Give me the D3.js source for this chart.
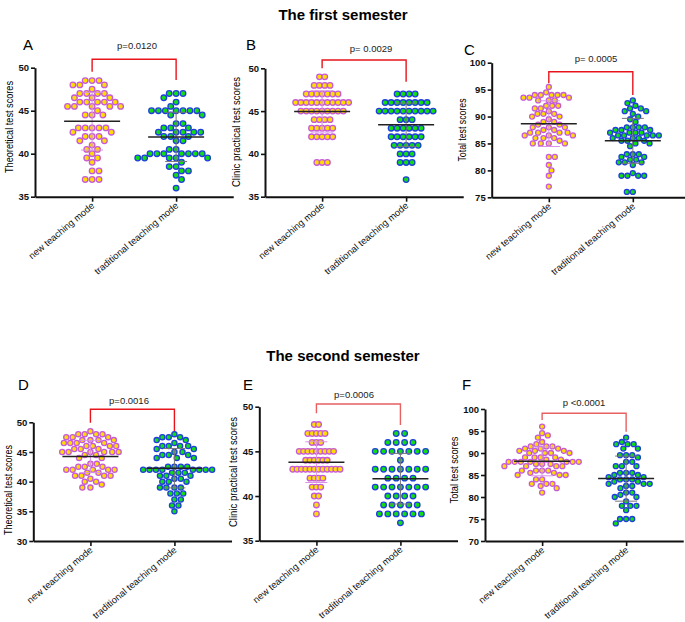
<!DOCTYPE html>
<html><head><meta charset="utf-8">
<script src="https://cdn.jsdelivr.net/npm/d3@7"></script>
<style>body{margin:0;background:#fff} text{font-family:"Liberation Sans",Arial,sans-serif}</style>
</head><body><svg id="c" width="685" height="622"></svg>
<script>
// ---------- DATA ----------
const groups = ["new teaching mode", "traditional teaching mode"];
const semesterTitles = ["The first semester", "The second semester"];
const panelLetters = ["A", "B", "C", "D", "E", "F"];
const yLabels = ["Theoretical  test scores", "Clinic practical test scores", "Total test scores",
                 "Theoretical  test scores", "Clinic practical test scores", "Total test scores"];
const pLabels = ["p=0.0120", "p= 0.0029", "p= 0.0005", "p=0.0016", "p=0.0006", "p <0.0001"];
const yTicksA = [35, 40, 45, 50];
const yTicksB = [35, 40, 45, 50];
const yTicksC = [75, 80, 85, 90, 95, 100];
const yTicksD = [30, 35, 40, 45, 50];
const yTicksE = [35, 40, 45, 50];
const yTicksF = [70, 75, 80, 85, 90, 95, 100];

const aNew = [48.5,48.5,48.5, 48,48,48, 47.5, 47,47,47,47, 46.5,46.5,46.5, 46,46,46,46,46,
  45.5,45.5,45.5,45.5,45.5, 45, 44.5,44.5,44.5, 43,43,43,43,43, 42.5,42.5, 42,42,42, 41.5,41.5, 41,
  40.5,40.5, 40, 39.5,39.5, 39, 38,38, 37,37,37];
const aTrad = [47,47,47, 46.5, 46, 45.5, 45,45,45,45,45,45,45, 44.5,44.5, 43.5,43.5, 43,43,43,
  42.5,42.5,42.5,42.5,42.5, 42,42,42, 41.5,41.5, 40.5,40.5, 40,40,40,40,40,40,40,
  39.5,39.5,39.5,39.5,39.5, 39, 38.5,38.5, 38,38, 37.5, 37, 36];
const bNew = [49,49, 48,48,48,48, 47,47,47,47,47,47,47, 46,46,46,46,46,46,46,46,46,46,46,
  45,45,45,45,45,45,45,45,45, 44,44,44,44, 43,43,43,43,43, 42,42,42,42,42, 39,39,39];
const bTrad = [47,47,47,47, 46,46,46,46,46,46,46,46, 45,45,45,45,45,45,45,45,45,45, 44,44,44,
  43,43,43,43,43,43, 42,42,42,42,42,42, 41,41,41,41,41, 40,40,40, 39,39,39, 37];
const cNew = [95.5, 94.5, 94,94,94,94,94, 93.5,93.5,93.5, 93,93,93, 92,92,92, 91.5,91.5, 91,
  90.5,90.5,90.5, 90,90, 89.5, 89,89, 88.5,88.5, 88,88,88, 87.5,87.5, 87,87,87,87,
  86.5,86.5,86.5, 86,86,86, 85.5, 85,85,85,85, 82.5,82.5, 81, 80, 79, 77];
const cTrad = [93, 92.5, 92, 91.5,91.5, 91,91, 90.5, 90, 89.5, 89, 88,88,88,88, 87.5,87.5,87.5,
  87,87,87,87, 86.5,86.5,86.5,86.5,86.5, 86,86,86, 85.5,85.5,85.5, 85,85, 84.5, 83,83,83,
  82.5,82.5, 82,82, 81.5,81.5,81.5, 81, 79.5, 79,79,79,79, 76,76];
const dNew = [48.5, 48,48,48,48, 47.5,47.5,47.5, 47,47,47,47, 46.5,46.5,46.5,46.5,
  46,46,46,46, 45.5,45.5,45.5, 45,45,45,45,45,45, 44.5,44.5, 44,44, 43,43, 42.5,42.5,42.5,
  42,42,42,42,42, 41.5,41.5, 41,41,41,41, 40.5, 40,40, 39.5, 39,39];
const dTrad = [48, 47.5,47.5,47.5, 47,47, 46.5, 46,46,46,46, 45.5,45.5, 45,45, 44.5,44.5,44.5,
  44,44,44, 42.5,42.5,42.5,42.5, 42,42,42,42,42,42,42,42, 41.5,41.5,41.5, 41,41,41, 40.5,40.5,
  40,40,40, 39,39,39,39, 38,38,38, 37,37, 36,36, 35];
const eNew = [48,48, 47,47,47,47,47, 46,46,46, 45,45,45,45,45,45,45,45,45, 44,44,44,44,44,44,
  43,43,43,43,43,43,43,43,43,43,43,43, 42,42,42,42, 41,41,41, 40,40, 39, 38];
const eTrad = [47,47, 46,46,46,46, 45,45,45,45,45,45,45, 44, 43,43,43,43,43,43,43,
  42,42,42,42, 41,41,41,41,41,41,41, 40,40,40,40, 39,39,39,39,39, 38,38,38,38,38,38, 37];
const fNew = [96, 94.5, 94, 93.5, 92.5, 92, 91.5,91.5,91.5, 91,91,91, 90.5,90.5,90.5, 90,90,90,90,
  89,89,89,89, 88.5,88.5, 88,88,88,88,88,88,88, 87.5,87.5,87.5, 87,87,87,87, 86,86,86,86,
  85.5,85.5, 85,85,85, 84,84, 83,83,83, 82.5, 82, 81];
const fTrad = [93.5, 92.5, 92,92,92, 91,91, 89.5,89.5,89.5, 89, 88,88, 87,87,87, 85.5,85.5,85.5,
  85,85, 84.5,84.5, 84,84,84, 83.5,83.5, 83,83,83, 82.5,82.5, 82, 81,81, 80.5, 80,80, 79,
  78,78,78, 77, 75,75,75, 74];

// ---------- LAYOUT ----------
const L = [
  {data:[aNew,aTrad], ticks:yTicksA, ax:35, yTop:67.7, yBot:196.7, letter:[23,50], yl:[13,127,92], pt:[137,49], br:[59.3,71.7,80], mode:"dodge", d:[6.9,6.9], r:2.8},
  {data:[bNew,bTrad], ticks:yTicksB, ax:265, yTop:68.3, yBot:196.7, letter:[246,50], yl:[240,132,110], pt:[371,52], br:[60,68.3,81.7], mode:"rows", d:[5.3,6.0], r:2.8},
  {data:[cNew,cTrad], ticks:yTicksC, ax:491.7, yTop:62.7, yBot:197.3, letter:[464,55], yl:[466,130,63], pt:[596,62], br:[71.7,83.3,95], mode:"dodge", d:[6.0,6.0], r:2.5},
  {data:[dNew,dTrad], ticks:yTicksD, ax:33.3, yTop:422.3, yBot:541, letter:[18,390], yl:[12,490,90], pt:[129,404], br:[409.3,422.7,431.7], mode:"dodge", d:[6.4,6.4], r:2.6},
  {data:[eNew,eTrad], ticks:yTicksE, ax:259.3, yTop:406.7, yBot:540.7, letter:[243,390], yl:[237,472,110], pt:[354,398], br:[404,413.3,425], mode:"rows", d:[4.3,8.4], r:2.8},
  {data:[fNew,fTrad], ticks:yTicksF, ax:485, yTop:409, yBot:541, letter:[462,390], yl:[458,470,67], pt:[584,406], br:[413.3,420,431.7], mode:"dodge", d:[6.1,6.1], r:2.5}
];
const styles = [
  {fill:"#ffdd00", stroke:"#c65ad8", sd:"#d990e6"},
  {fill:"#11dd11", stroke:"#1f3fdc", sd:"#777777"}
];

const svg = d3.select("#c");
svg.append("rect").attr("width",685).attr("height",622).attr("fill","#fff");

svg.append("text").attr("x",343).attr("y",20).attr("text-anchor","middle")
  .attr("font-size",15).attr("font-weight","bold").text(semesterTitles[0]);
svg.append("text").attr("x",343).attr("y",361).attr("text-anchor","middle")
  .attr("font-size",15).attr("font-weight","bold").text(semesterTitles[1]);

function dodge(vals, y, sx, sy) {
  const pts = vals.map(v => ({v, y: y(v)})).sort((a,b) => a.y - b.y);
  const placed = [];
  let flip = 0;
  for (const p of pts) {
    const ivs = placed.filter(q => Math.abs(q.y - p.y) < sy - 1e-6).map(q => {
      const dy = (q.y - p.y) / sy; const w = sx * Math.sqrt(1 - dy*dy);
      return [q.x - w, q.x + w];
    });
    const cands = [0];
    ivs.forEach(([a,b]) => cands.push(a, b));
    const ok = c => ivs.every(([a,b]) => c <= a + 1e-6 || c >= b - 1e-6);
    let best = null;
    for (const c of cands) {
      if (!ok(c)) continue;
      if (best === null || Math.abs(c) < Math.abs(best) - 1e-6 ||
          (Math.abs(Math.abs(c) - Math.abs(best)) < 1e-6 && (flip % 2 ? c < best : c > best))) best = c;
    }
    flip++;
    p.x = best; placed.push(p);
  }
  return placed;
}
function rows(vals, y, sx) {
  const g = d3.groups(vals, v => v);
  const out = [];
  g.forEach(([v, arr]) => arr.forEach((_, i) => out.push({v, y: y(v), x: (i - (arr.length - 1) / 2) * sx})));
  return out;
}

L.forEach((P, k) => {
  const g = svg.append("g");
  const dom = d3.extent(P.ticks);
  const y = d3.scaleLinear().domain(dom).range([P.yBot, P.yTop]);
  const step = 84, pad = 0.68;
  const x = d3.scalePoint().domain(groups).range([P.ax, P.ax + step * (1 + 2 * pad)]).padding(pad);

  g.append("text").attr("x",P.letter[0]).attr("y",P.letter[1]).attr("font-size",15).text(panelLetters[k]);
  g.append("text").attr("transform",`translate(${P.yl[0]},${P.yl[1]}) rotate(-90)`)
    .attr("text-anchor","middle").attr("font-size",10.5)
    .attr("textLength",P.yl[2]).attr("lengthAdjust","spacingAndGlyphs").text(yLabels[k]);

  const yAxis = d3.axisLeft(y).tickValues(P.ticks).tickSize(4).tickPadding(2).tickSizeOuter(0);
  const ya = g.append("g").attr("transform",`translate(${P.ax},0)`).call(yAxis);
  ya.select(".domain").attr("stroke","#111").attr("stroke-width",2);
  ya.selectAll(".tick line").attr("stroke","#111").attr("stroke-width",1.6);
  ya.selectAll(".tick text").attr("font-size",9.5).attr("font-weight","bold").attr("fill","#111")
    .attr("font-family","Liberation Sans, Arial, sans-serif");

  const xAxis = d3.axisBottom(x).tickSize(5).tickSizeOuter(0).tickFormat(() => "");
  const xa = g.append("g").attr("transform",`translate(0,${P.yBot})`).call(xAxis);
  xa.select(".domain").attr("stroke","#111").attr("stroke-width",2);
  xa.selectAll(".tick line").attr("stroke","#111").attr("stroke-width",1.6);
  groups.forEach(c => {
    g.append("text").attr("transform",`translate(${x(c)+3},${P.yBot+10}) rotate(-40)`)
      .attr("text-anchor","end").attr("font-size",9.5).attr("fill","#111").text(c);
  });

  const xl = x(groups[0]), xr = x(groups[1]);
  const bc = k >= 4 ? "#e86060" : "#e8141c";
  g.append("path").attr("fill","none").attr("stroke",bc).attr("stroke-width",1.4)
    .attr("d",`M${xl},${P.br[1]}V${P.br[0]}H${xr}V${P.br[2]}`);
  g.append("text").attr("x",P.pt[0]).attr("y",P.pt[1]).attr("text-anchor","middle")
    .attr("font-size",9.5).attr("fill","#222").text(pLabels[k]);

  P.data.forEach((vals, gi) => {
    const st = styles[gi];
    const cx = x(groups[gi]);
    const pts = P.mode === "rows" ? rows(vals, y, P.d[gi]) : dodge(vals, y, P.d[gi], P.d[gi]);
    g.append("g").selectAll("circle").data(pts).join("circle")
      .attr("cx", d => cx + d.x).attr("cy", d => d.y).attr("r", P.r)
      .attr("fill", st.fill).attr("stroke", st.stroke).attr("stroke-width", 1.3);
    const m = d3.mean(vals), sd = d3.deviation(vals);
    const sg = g.append("g").attr("stroke", st.sd).attr("stroke-width", 1);
    sg.append("line").attr("x1",cx).attr("x2",cx).attr("y1",y(m-sd)).attr("y2",y(m+sd));
    [m-sd, m+sd].forEach(v => sg.append("line").attr("x1",cx-11).attr("x2",cx+11).attr("y1",y(v)).attr("y2",y(v)));
    g.append("line").attr("x1",cx-28).attr("x2",cx+28).attr("y1",y(m)).attr("y2",y(m))
      .attr("stroke","#222").attr("stroke-width",1.5);
  });
});
</script></body></html>
